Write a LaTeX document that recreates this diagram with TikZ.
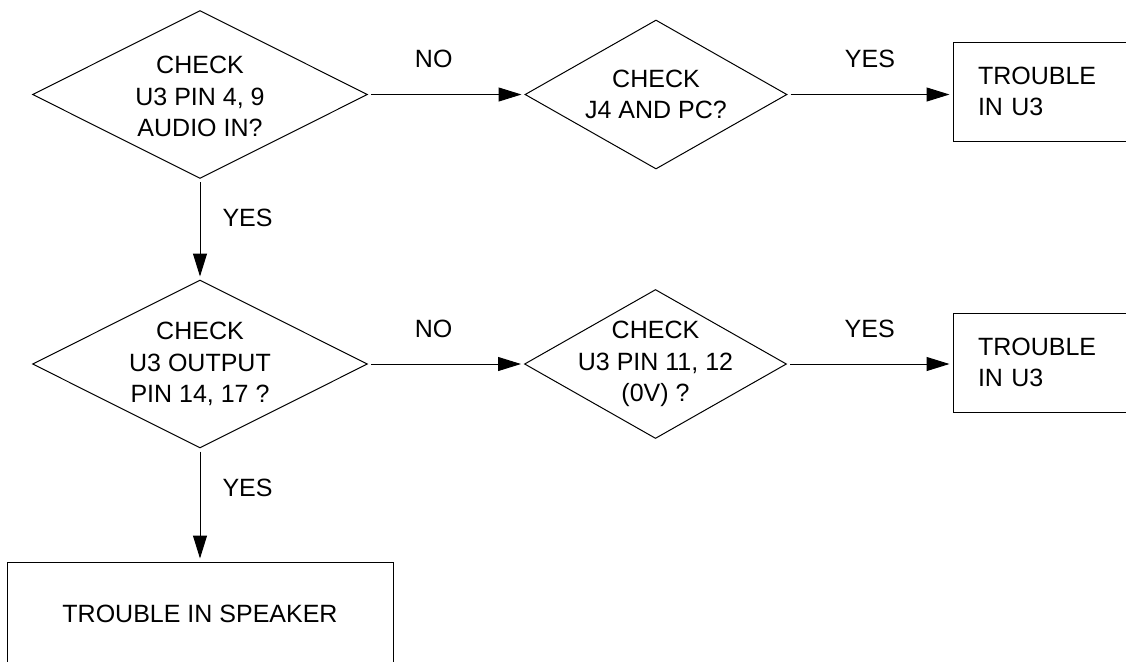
\documentclass[tikz,border=0pt]{standalone}
\usepackage{fontspec}
\setmainfont{Liberation Sans}
\usepackage{tikz}
\usetikzlibrary{arrows.meta}
\usetikzlibrary{shapes.geometric}

\tikzset{
  decision/.style={draw, line width=0.5pt, diamond, inner sep=0pt},
  bigcheck/.style={decision, minimum width=167.5pt, minimum height=84pt},
  smallcheck/.style={decision, minimum width=131pt, minimum height=74.5pt},
  endbox/.style={draw, line width=0.5pt, rectangle, inner sep=0pt},
  flow/.style={line width=0.5pt, -{Triangle[length=11.5pt, width=7pt]},
    shorten <=1.5pt, shorten >=1.5pt},
  answer/.style={inner sep=0pt}
}

\begin{document}
\begin{tikzpicture}[x=0.5pt, y=-0.5pt, font=\fontsize{12.5}{15.75}\selectfont]
\useasboundingbox (0, 0) rectangle (1126, 661);
\node[bigcheck, label={[align=center, yshift=-1pt]center:{CHECK\\U3 PIN 4, 9\\AUDIO IN?}}] (chkA) at (200, 94.5) {};
\node[smallcheck, label={[align=center]center:{CHECK\\J4 AND PC?}}] (chkB) at (656, 94.5) {};
\node[endbox, minimum width=108.5pt, minimum height=49.5pt, text width=83.5pt, inner xsep=12.5pt, align=left] (endA) at (1061.5, 91.5) {TROUBLE\\IN U3};
\node[bigcheck, label={[align=center]center:{CHECK\\U3 OUTPUT\\PIN 14, 17 ?}}] (chkC) at (200, 364) {};
\node[smallcheck, label={[align=center]center:{CHECK\\U3 PIN 11, 12\\(0V) ?}}] (chkD) at (655.5, 364) {};
\node[endbox, minimum width=108.5pt, minimum height=49.5pt, text width=83.5pt, inner xsep=12.5pt, align=left] (endB) at (1061.5, 362.5) {TROUBLE\\IN U3};
\node[endbox, minimum width=193pt, minimum height=52pt] (endC) at (200, 614) {TROUBLE IN SPEAKER};
\draw[flow] (chkA.east) -- node[answer, pos=0.42, above=13pt] {NO} (chkB.west);
\draw[flow] (chkB.east) -- node[answer, midway, above=13pt] {YES} (endA.west |- chkB.east);
\draw[flow] (chkA.south) -- node[answer, pos=0.39, right=11pt] {YES} (chkC.north);
\draw[flow] (chkC.east) -- node[answer, pos=0.42, above=13pt] {NO} (chkD.west);
\draw[flow] (chkD.east) -- node[answer, midway, above=13pt] {YES} (endB.west |- chkD.east);
\draw[flow] (chkC.south) -- node[answer, pos=0.35, right=11pt] {YES} (endC.north);
\end{tikzpicture}
\end{document}
